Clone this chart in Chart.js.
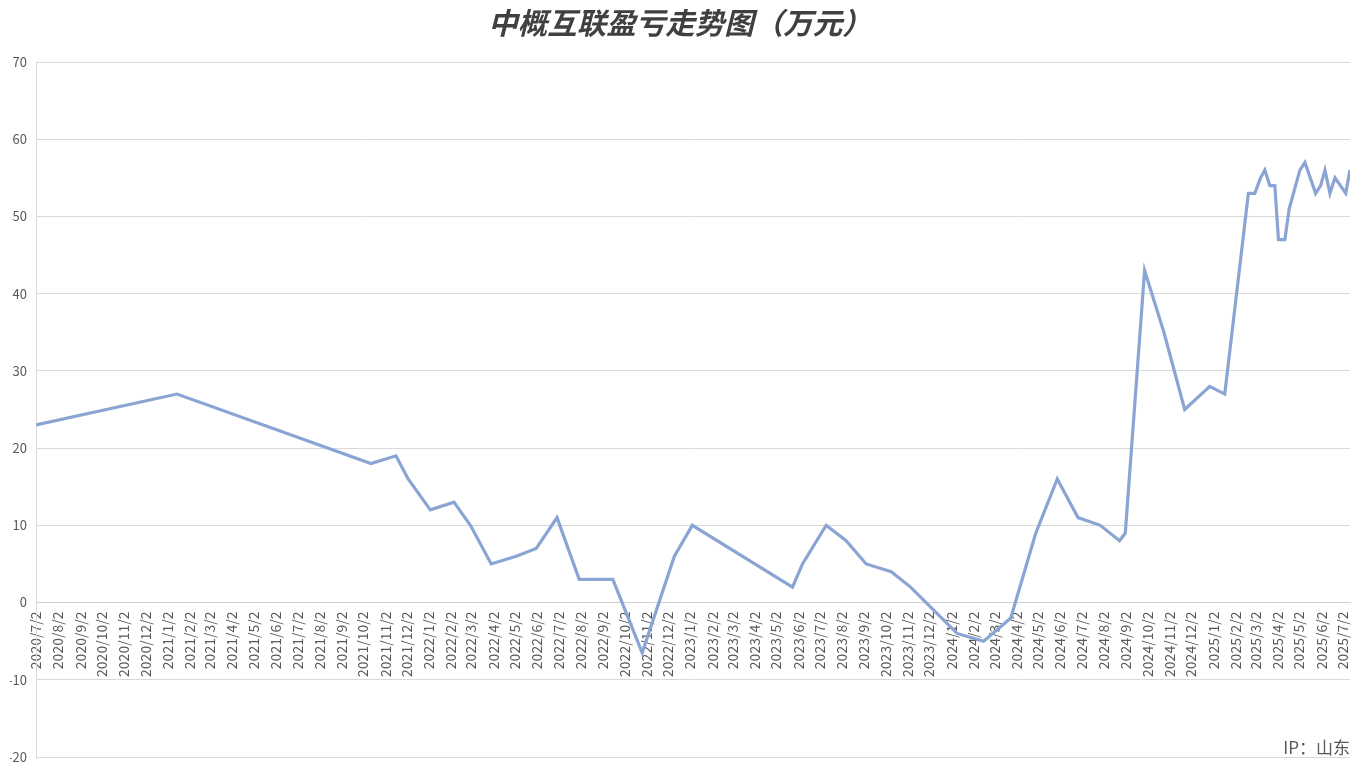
<!DOCTYPE html>
<html>
<head>
<meta charset="utf-8">
<script src="https://cdn.jsdelivr.net/npm/chart.js@4.4.1/dist/chart.umd.min.js"></script>
<style>
  html, body { margin: 0; padding: 0; background: #ffffff; }
  #wrap { position: relative; width: 1364px; height: 768px; }
</style>
</head>
<body>
<div id="wrap"><canvas id="c" width="1364" height="768"></canvas></div>
<script>
const titleText = '中概互联盈亏走势图（万元）';
const footNote = 'IP：山东';

const dates = [
  '2020/7/2','2021/1/15','2021/10/13','2021/11/17','2021/12/4','2022/1/4','2022/2/6','2022/3/1',
  '2022/3/30','2022/5/4','2022/6/1','2022/6/30','2022/7/31','2022/9/16','2022/10/27','2022/12/11',
  '2023/1/5','2023/5/25','2023/6/8','2023/7/11','2023/8/8','2023/9/5','2023/10/10','2023/11/6',
  '2024/1/10','2024/2/16','2024/3/25','2024/4/29','2024/5/29','2024/6/27','2024/7/28','2024/8/24',
  '2024/9/1','2024/9/28','2024/10/25','2024/11/23','2024/12/28','2025/1/18','2025/2/20','2025/3/1',
  '2025/3/9','2025/3/15','2025/3/22','2025/3/29','2025/4/3','2025/4/12','2025/4/18','2025/5/3',
  '2025/5/10','2025/5/25','2025/6/1','2025/6/7','2025/6/14','2025/6/21','2025/7/6','2025/7/12'
];
const values = [
  23, 27, 18, 19, 16, 12, 13, 10,
  5, 6, 7, 11, 3, 3, -6.5, 6,
  10, 2, 5, 10, 8, 5, 4, 2,
  -4, -5, -2, 9, 16, 11, 10, 8,
  9, 43, 35, 25, 28, 27, 53, 53,
  55, 56, 54, 54, 47, 47, 51, 56,
  57, 53, 54, 56, 53, 55, 53, 56
];
const tickLabels = [
  '2020/7/2','2020/8/2','2020/9/2','2020/10/2','2020/11/2','2020/12/2',
  '2021/1/2','2021/2/2','2021/3/2','2021/4/2','2021/5/2','2021/6/2','2021/7/2','2021/8/2','2021/9/2','2021/10/2','2021/11/2','2021/12/2',
  '2022/1/2','2022/2/2','2022/3/2','2022/4/2','2022/5/2','2022/6/2','2022/7/2','2022/8/2','2022/9/2','2022/10/2','2022/11/2','2022/12/2',
  '2023/1/2','2023/2/2','2023/3/2','2023/4/2','2023/5/2','2023/6/2','2023/7/2','2023/8/2','2023/9/2','2023/10/2','2023/11/2','2023/12/2',
  '2024/1/2','2024/2/2','2024/3/2','2024/4/2','2024/5/2','2024/6/2','2024/7/2','2024/8/2','2024/9/2','2024/10/2','2024/11/2','2024/12/2',
  '2025/1/2','2025/2/2','2025/3/2','2025/4/2','2025/5/2','2025/6/2','2025/7/2'
];
const yMin = -20, yMax = 70, yStep = 10;

function dayNum(s) {
  const [y, m, d] = s.split('/').map(Number);
  return Date.UTC(y, m - 1, d) / 86400000;
}
const base = dayNum(dates[0]);
const points = dates.map((d, i) => ({ x: dayNum(d) - base, y: values[i] }));
const tickDays = tickLabels.map(t => dayNum(t) - base);
const xMax = dayNum(dates[dates.length - 1]) - base;

const FONT = "'Noto Sans CJK SC', 'Noto Sans', sans-serif";

function zeroPad(s) {
  s.paddingLeft = 0; s.paddingRight = 0; s.paddingTop = 0; s.paddingBottom = 0;
}

const footPlugin = {
  id: 'foot',
  afterDraw(chart) {
    const ctx = chart.ctx;
    ctx.save();
    ctx.font = "17px " + FONT;
    ctx.fillStyle = '#595959';
    ctx.textAlign = 'right';
    ctx.textBaseline = 'middle';
    ctx.fillText(footNote, 1350, 748);
    ctx.restore();
  }
};

new Chart(document.getElementById('c'), {
  type: 'line',
  data: {
    datasets: [{
      data: points,
      borderColor: '#8AA5D3',
      borderWidth: 3.2,
      pointRadius: 0,
      pointHoverRadius: 0,
      tension: 0,
      fill: false
    }]
  },
  options: {
    responsive: false,
    animation: false,
    events: [],
    layout: { padding: { left: 10, right: 14, top: 0, bottom: 11 } },
    plugins: {
      legend: { display: false },
      tooltip: { enabled: false },
      title: {
        display: true,
        text: titleText,
        color: '#404040',
        font: { family: FONT, size: 29.5, weight: 'bold', style: 'italic' },
        padding: { top: 5, bottom: 21.6 }
      }
    },
    scales: {
      x: {
        type: 'linear',
        position: { y: 0 },
        min: 0,
        max: xMax,
        afterBuildTicks: (s) => { s.ticks = tickDays.map(v => ({ value: v })); },
        afterFit: zeroPad,
        grid: { display: false, drawTicks: false },
        border: { display: true, color: '#d0d0d0', width: 1 },
        ticks: {
          autoSkip: false,
          maxRotation: 90,
          minRotation: 90,
          padding: 9,
          color: '#595959',
          font: { family: FONT, size: 14 },
          callback: (v, i) => tickLabels[i]
        }
      },
      y: {
        type: 'linear',
        min: yMin,
        max: yMax,
        afterFit: (s) => { s.width = 26; zeroPad(s); },
        grid: { color: '#d9d9d9', lineWidth: 1, drawTicks: false },
        border: { display: true, color: '#d9d9d9', width: 1 },
        ticks: {
          stepSize: yStep,
          padding: 9,
          color: '#595959',
          font: { family: FONT, size: 13 }
        }
      }
    }
  },
  plugins: [footPlugin]
});
</script>
</body>
</html>
